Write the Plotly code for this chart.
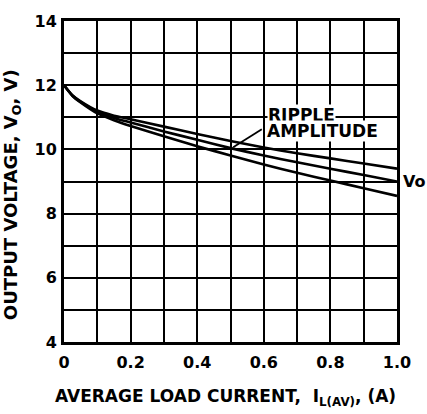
import plotly.graph_objects as go

# Data
load_current = [0, 0.025, 0.05, 0.1, 0.15, 0.2, 0.3, 0.4, 0.5, 0.6, 0.7, 0.8, 0.9, 1.0]
ripple_upper = [12.0, 11.69, 11.50, 11.21, 11.05, 10.94, 10.71, 10.48, 10.26, 10.06, 9.88, 9.72, 9.56, 9.40]
vo_average = [12.0, 11.68, 11.48, 11.17, 10.98, 10.84, 10.56, 10.30, 10.04, 9.81, 9.60, 9.40, 9.20, 9.00]
ripple_lower = [12.0, 11.67, 11.46, 11.12, 10.91, 10.73, 10.41, 10.10, 9.81, 9.53, 9.27, 9.03, 8.79, 8.55]

x_tickvals = [0, 0.2, 0.4, 0.6, 0.8, 1.0]
x_ticktext = ["0", "0.2", "0.4", "0.6", "0.8", "1.0"]
y_tickvals = [4, 6, 8, 10, 12, 14]
y_ticktext = ["4", "6", "8", "10", "12", "14"]

FONT = "DejaVu Sans"

fig = go.Figure()
for series in (ripple_upper, vo_average, ripple_lower):
    fig.add_trace(go.Scatter(
        x=load_current, y=series, mode="lines",
        line=dict(color="black", width=2.6, shape="spline", smoothing=0.6),
        showlegend=False, hoverinfo="skip"))

axis_common = dict(
    showline=True, linecolor="black", linewidth=3, mirror=True,
    showgrid=True, gridcolor="black", gridwidth=2,
    zeroline=False, ticks="",
    tickfont=dict(family=FONT, size=16, color="black", weight="bold"),
)

fig.update_xaxes(
    range=[0, 1.0], tickvals=x_tickvals, ticktext=x_ticktext,
    minor=dict(dtick=0.1, showgrid=True, gridcolor="black", gridwidth=2, ticks=""),
    ticklabelstandoff=4,
    **axis_common)
fig.update_yaxes(
    range=[4, 14], tickvals=y_tickvals, ticktext=y_ticktext,
    minor=dict(dtick=1, showgrid=True, gridcolor="black", gridwidth=2, ticks=""),
    ticklabelstandoff=1,
    **axis_common)

annot_font = dict(family=FONT, size=17, color="black", weight="bold")

fig.update_layout(
    width=427, height=414,
    margin=dict(l=64, r=30, t=12, b=72),
    paper_bgcolor="white", plot_bgcolor="white",
    annotations=[
        dict(text="AVERAGE LOAD CURRENT,  I<sub>L(AV)</sub>, (A)",
             xref="paper", yref="paper", x=0.4835, y=-0.1727,
             xanchor="center", yanchor="middle", showarrow=False, font=annot_font),
        dict(text="OUTPUT VOLTAGE, V<sub>O</sub>, V)",
             xref="paper", yref="paper", x=-0.156, y=0.4576, textangle=-90,
             xanchor="center", yanchor="middle", showarrow=False,
             font=dict(family=FONT, size=18, color="black", weight="bold")),
        dict(text="RIPPLE", xref="x", yref="y", x=0.61, y=11.08,
             xanchor="left", yanchor="middle", showarrow=False,
             bgcolor="white", borderpad=0, font=annot_font),
        dict(text="AMPLITUDE", xref="x", yref="y", x=0.607, y=10.56,
             xanchor="left", yanchor="middle", showarrow=False,
             bgcolor="white", borderpad=0, font=annot_font),
        dict(text="Vo", xref="paper", yref="y", x=1.012, y=9.0,
             xanchor="left", yanchor="middle", showarrow=False,
             font=dict(family=FONT, size=16, color="black", weight="bold")),
    ],
    shapes=[
        dict(type="line", xref="x", yref="y", x0=0.594, y0=10.63, x1=0.508, y1=10.07,
             line=dict(color="black", width=1.8)),
    ],
)

fig.write_html("out.html",
               config={"displayModeBar": False},
               post_script="document.body.style.margin='0px';document.body.style.overflow='hidden';")
